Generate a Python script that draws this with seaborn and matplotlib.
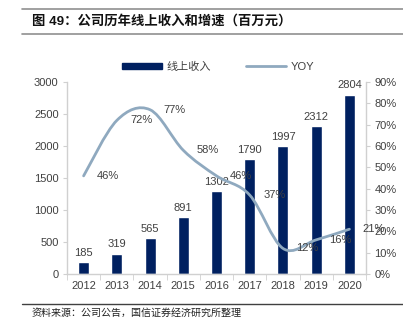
import numpy as np
import pandas as pd
import matplotlib
matplotlib.use("Agg")
import matplotlib.pyplot as plt
from matplotlib.path import Path
from matplotlib.patches import PathPatch, Patch
from matplotlib.lines import Line2D
import seaborn as sns

years = ["2012", "2013", "2014", "2015", "2016", "2017", "2018", "2019", "2020"]
revenue = [185, 319, 565, 891, 1302, 1790, 1997, 2312, 2804]
yoy = [46, 72, 77, 58, 46, 37, 12, 16, 21]
left_ticks = [0, 500, 1000, 1500, 2000, 2500, 3000]
right_ticks = [0, 10, 20, 30, 40, 50, 60, 70, 80, 90]

title = "图 49：公司历年线上收入和增速（百万元）"
source = "资料来源：公司公告，国信证券经济研究所整理"
bar_name = "线上收入"
line_name = "YOY"

BAR = "#002060"
LINE = "#8FA9BF"
AXC = "#D0D0D0"
TXT = "#404040"

sns.set_style("white")
plt.rcParams["font.family"] = ["Liberation Sans", "Noto Sans CJK SC", "DejaVu Sans"]

fig = plt.figure(figsize=(4.03, 3.32), dpi=100)
ax = fig.add_axes([67 / 403, 1 - 274 / 332, 299 / 403, 192 / 332])

df = pd.DataFrame({"year": years, "revenue": revenue, "yoy": yoy})
sns.barplot(data=df, x="year", y="revenue", color=BAR, width=0.33, saturation=1, ax=ax)
ax.bar_label(ax.containers[0], labels=[str(v) for v in revenue], padding=3,
             fontsize=8, color=TXT)
ax.set_xlim(-0.5, len(years) - 0.5)
ax.set_ylim(0, 3000)
ax.set_yticks(left_ticks)
ax.set_yticklabels([str(t) for t in left_ticks])
ax.set_xlabel("")
ax.set_ylabel("")

ax2 = ax.twinx()
ax2.set_ylim(0, 90)
ax2.set_yticks(right_ticks)
ax2.set_yticklabels([f"{t}%" for t in right_ticks])

# smoothed line (Catmull-Rom style Bezier through the data points)
xs = np.arange(len(yoy), dtype=float)
ys = np.array(yoy, dtype=float)
verts = [(xs[0], ys[0])]
codes = [Path.MOVETO]
n = len(xs)
for i in range(n - 1):
    p0 = np.array([xs[max(i - 1, 0)], ys[max(i - 1, 0)]])
    p1 = np.array([xs[i], ys[i]])
    p2 = np.array([xs[i + 1], ys[i + 1]])
    p3 = np.array([xs[min(i + 2, n - 1)], ys[min(i + 2, n - 1)]])
    c1 = p1 + (p2 - p0) / 6.0
    c2 = p2 - (p3 - p1) / 6.0
    verts += [tuple(c1), tuple(c2), tuple(p2)]
    codes += [Path.CURVE4, Path.CURVE4, Path.CURVE4]
ax2.add_patch(PathPatch(Path(verts, codes), facecolor="none", edgecolor=LINE,
                        linewidth=2, capstyle="round", joinstyle="round", zorder=3))

for i, v in enumerate(yoy):
    ax2.text(i + 0.74, v, f"{v}%", ha="center", va="center", fontsize=8, color=TXT, zorder=4)

for a in (ax, ax2):
    a.spines["top"].set_visible(False)
    for s in ("left", "right", "bottom"):
        a.spines[s].set_color(AXC)
        a.spines[s].set_linewidth(1)
ax.spines["right"].set_visible(False)
ax2.spines["left"].set_visible(False)
ax2.spines["bottom"].set_visible(False)

ax.tick_params(axis="y", direction="out", length=3, color=AXC, labelsize=8,
               labelcolor=TXT, pad=3, left=True)
ax2.tick_params(axis="y", direction="out", length=3, color=AXC, labelsize=8,
                labelcolor=TXT, pad=3, right=True)
ax.tick_params(axis="x", which="major", length=0, labelsize=8, labelcolor=TXT, pad=5)
ax.set_xticks(np.arange(-0.5, len(years), 1.0), minor=True)
ax.tick_params(axis="x", which="minor", direction="out", length=4, color=AXC, bottom=True)
ax.grid(False)
ax2.grid(False)

handles = [Patch(facecolor=BAR, edgecolor=BAR),
           Line2D([0], [0], color=LINE, linewidth=2)]
leg = ax.legend(handles, [bar_name, line_name], ncol=2, frameon=False,
                loc="center", bbox_to_anchor=(0.505, 1.08), fontsize=8,
                handlelength=3.6, handleheight=0.5, columnspacing=3.2,
                handletextpad=0.4, labelcolor=TXT)

# title, rules, source
fig.add_artist(Line2D([22 / 403, 1], [1 - 9 / 332, 1 - 9 / 332], color="#909090", linewidth=1.2))
fig.add_artist(Line2D([22 / 403, 1], [1 - 34 / 332, 1 - 34 / 332], color="#909090", linewidth=1.2))
fig.add_artist(Line2D([22 / 403, 1], [1 - 304 / 332, 1 - 304 / 332], color="#404040", linewidth=1))
fig.text(32 / 403, 1 - 21 / 332, title, fontsize=9.6, fontweight="bold", color="#111111",
         va="center", ha="left", family=["Liberation Sans", "Noto Sans CJK SC"])
fig.text(32 / 403, 1 - 313 / 332, source, fontsize=7.2, color="#222222",
         va="center", ha="left", family=["Noto Sans CJK SC"])

fig.savefig("out.png", dpi=100)
